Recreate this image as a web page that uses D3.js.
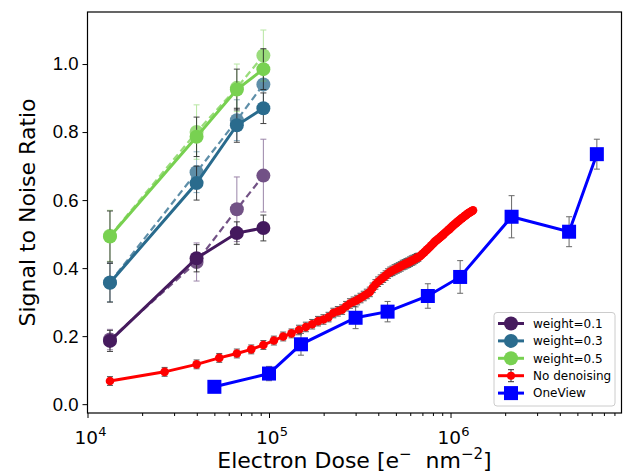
<!DOCTYPE html>
<html>
<head>
<meta charset="utf-8">
<script src="https://cdn.jsdelivr.net/npm/d3@7"></script>
<style>
  body { margin: 0; background: #fff; }
  svg { font-family: "DejaVu Sans", sans-serif; }
</style>
</head>
<body>
<svg id="chart" width="624" height="473"></svg>
<script>
// doses used by the denoised runs
const weightDose = [13300, 39900, 66500, 93100];

// weight series (solid = plain, dashed = second variant)
const w01 = [0.186, 0.429, 0.503, 0.518];
const w01Err = [0.031, 0.040, 0.033, 0.038];
const w03 = [0.357, 0.650, 0.820, 0.870];
const w03Err = [0.057, 0.050, 0.050, 0.045];
const w05 = [0.493, 0.786, 0.925, 0.985];
const w05Err = [0.075, 0.058, 0.060, 0.060];

const w01b = [0.190, 0.418, 0.573, 0.672];
const w01bErr = [0.030, 0.056, 0.095, 0.107];
const w03b = [0.358, 0.682, 0.835, 0.940];
const w03bErr = [0.057, 0.060, 0.060, 0.060];
const w05b = [0.495, 0.800, 0.930, 1.025];
const w05bErr = [0.075, 0.080, 0.070, 0.075];

// no denoising: dose step 13300, k = 1..100
const rawStep = 13300;
const rawSnr = [
  0.068, 0.095, 0.117, 0.136, 0.149, 0.161, 0.174, 0.187, 0.199, 0.208,
  0.218, 0.227, 0.235, 0.244, 0.249, 0.256, 0.268, 0.273, 0.278, 0.288,
  0.296, 0.301, 0.306, 0.312, 0.318, 0.324, 0.330, 0.342, 0.352, 0.360,
  0.366, 0.372, 0.378, 0.384, 0.389, 0.392, 0.396, 0.399, 0.402, 0.405,
  0.409, 0.411, 0.414, 0.416, 0.419, 0.422, 0.424, 0.427, 0.430, 0.432,
  0.435, 0.439, 0.443, 0.447, 0.451, 0.455, 0.459, 0.463, 0.467, 0.471,
  0.475, 0.479, 0.482, 0.485, 0.488, 0.491, 0.494, 0.497, 0.500, 0.503,
  0.506, 0.509, 0.512, 0.514, 0.517, 0.520, 0.523, 0.526, 0.528, 0.531,
  0.533, 0.536, 0.538, 0.540, 0.543, 0.545, 0.547, 0.549, 0.551, 0.553,
  0.555, 0.557, 0.559, 0.561, 0.562, 0.564, 0.565, 0.567, 0.568, 0.570
];
const rawErr = [
  0.013, 0.013, 0.013, 0.013, 0.013, 0.013, 0.013, 0.013, 0.013, 0.013,
  0.014, 0.014, 0.014, 0.014, 0.014, 0.014, 0.014, 0.014, 0.014, 0.014,
  0.014, 0.014, 0.014, 0.014, 0.014, 0.014, 0.014, 0.014, 0.014, 0.014,
  0.014, 0.014, 0.014, 0.014, 0.014, 0.014, 0.014, 0.014, 0.014, 0.014,
  0.014, 0.014, 0.014, 0.014, 0.014, 0.014, 0.014, 0.013, 0.013, 0.012,
  0, 0, 0, 0, 0, 0, 0, 0, 0, 0, 0, 0, 0, 0, 0, 0, 0, 0, 0, 0, 0, 0, 0, 0, 0,
  0, 0, 0, 0, 0, 0, 0, 0, 0, 0, 0, 0, 0, 0, 0, 0, 0, 0, 0, 0, 0, 0, 0, 0, 0
];

// OneView
const ovDose = [5.0e4, 1.0e5, 1.5e5, 3.0e5, 4.5e5, 7.5e5, 1.13e6, 2.17e6, 4.5e6, 6.4e6];
const ovSnr = [0.051, 0.090, 0.176, 0.254, 0.272, 0.318, 0.374, 0.551, 0.507, 0.735];
const ovErr = [0.015, 0.021, 0.032, 0.032, 0.030, 0.036, 0.048, 0.062, 0.044, 0.044];

const yTicks = [0, 0.2, 0.4, 0.6, 0.8, 1.0];
const xMajor = [1e4, 1e5, 1e6];

const col01 = "#461b5e", col03 = "#2b6c8e", col05 = "#78d151";

const svg = d3.select("#chart");
const box = { left: 87.5, right: 621.5, top: 12, bottom: 413 };

const x = d3.scaleLog().domain([1e4, 8.75e6]).range([box.left, box.right]);
const y = d3.scaleLinear().domain([-0.026, 1.153]).range([box.bottom, box.top]);

svg.append("defs").append("clipPath").attr("id", "clip")
  .append("rect").attr("x", box.left).attr("y", box.top)
  .attr("width", box.right - box.left).attr("height", box.bottom - box.top);

const plot = svg.append("g").attr("clip-path", "url(#clip)");
const line = d3.line().x(d => x(d[0])).y(d => y(d[1]));

function drawSeries(xs, ys, es, o) {
  const pts = xs.map((d, i) => [d, ys[i], es[i]]);
  const g = plot.append("g").attr("opacity", o.opacity || 1);
  g.append("path").datum(pts).attr("d", line)
    .attr("fill", "none").attr("stroke", o.color)
    .attr("stroke-width", o.lw).attr("stroke-dasharray", o.dash || null);
  // error bars
  const eb = g.append("g").attr("stroke", o.ecolor).attr("stroke-width", o.elw || 1)
    .attr("opacity", o.ealpha || 1);
  pts.filter(d => d[2] > 0).forEach(d => {
    const cx = x(d[0]);
    eb.append("line").attr("x1", cx).attr("x2", cx)
      .attr("y1", y(d[1] - d[2])).attr("y2", y(d[1] + d[2]));
    [d[1] - d[2], d[1] + d[2]].forEach(v => {
      eb.append("line").attr("x1", cx - 3).attr("x2", cx + 3)
        .attr("y1", y(v)).attr("y2", y(v));
    });
  });
  // markers
  if (o.marker === "square") {
    g.selectAll(null).data(pts).join("rect")
      .attr("x", d => x(d[0]) - o.size).attr("y", d => y(d[1]) - o.size)
      .attr("width", o.size * 2).attr("height", o.size * 2)
      .attr("fill", o.color);
  } else {
    g.selectAll(null).data(pts).join("circle")
      .attr("cx", d => x(d[0])).attr("cy", d => y(d[1])).attr("r", o.size)
      .attr("fill", o.color);
  }
}

// dashed variants
drawSeries(weightDose, w01b, w01bErr, { color: col01, lw: 2.2, dash: "7,4", marker: "circle", size: 7, ecolor: col01, ealpha: 0.7, opacity: 0.75 });
drawSeries(weightDose, w03b, w03bErr, { color: col03, lw: 2.2, dash: "7,4", marker: "circle", size: 7, ecolor: col03, ealpha: 0.7, opacity: 0.75 });
drawSeries(weightDose, w05b, w05bErr, { color: col05, lw: 2.2, dash: "7,4", marker: "circle", size: 7, ecolor: col05, ealpha: 0.7, opacity: 0.75 });
// solid
drawSeries(weightDose, w01, w01Err, { color: col01, lw: 3, marker: "circle", size: 7, ecolor: "#222", ealpha: 0.85 });
drawSeries(weightDose, w03, w03Err, { color: col03, lw: 3, marker: "circle", size: 7, ecolor: "#222", ealpha: 0.85 });
drawSeries(weightDose, w05, w05Err, { color: col05, lw: 3, marker: "circle", size: 7, ecolor: "#222", ealpha: 0.85 });

const rawDose = rawSnr.map((d, i) => rawStep * (i + 1));
drawSeries(rawDose, rawSnr, rawErr, { color: "#ff0000", lw: 3, marker: "circle", size: 4.3, ecolor: "#333", ealpha: 0.8 });
drawSeries(ovDose, ovSnr, ovErr, { color: "#0000ff", lw: 3, marker: "square", size: 7, ecolor: "#444", ealpha: 0.8 });

// axes
const yAxis = svg.append("g").attr("transform", `translate(${box.left},0)`)
  .call(d3.axisLeft(y).tickValues(yTicks).tickFormat(d3.format(".1f")).tickSize(5).tickPadding(4));
yAxis.selectAll("text").attr("font-size", 18.5).attr("fill", "#000");

const minor = [];
for (let e = 4; e <= 6; e++) for (let m = 2; m <= 9; m++) {
  const v = m * Math.pow(10, e);
  if (v < 8.75e6) minor.push(v);
}
svg.append("g").attr("transform", `translate(0,${box.bottom})`)
  .call(d3.axisBottom(x).tickValues(minor).tickFormat("").tickSize(3));
svg.append("g").attr("transform", `translate(0,${box.bottom})`)
  .call(d3.axisBottom(x).tickValues(xMajor).tickFormat("").tickSize(5));

svg.selectAll(".domain").remove();
svg.selectAll(".tick line").attr("stroke", "#000").attr("stroke-width", 1);

xMajor.forEach(v => {
  const t = svg.append("text").attr("x", x(v) + 3).attr("y", box.bottom + 31)
    .attr("text-anchor", "middle").attr("font-size", 18.5);
  t.append("tspan").text("10");
  t.append("tspan").attr("dy", -8).attr("font-size", 13).text(Math.log10(v));
});

// frame
svg.append("rect").attr("x", box.left).attr("y", box.top)
  .attr("width", box.right - box.left).attr("height", box.bottom - box.top)
  .attr("fill", "none").attr("stroke", "#000").attr("stroke-width", 1.2);

// axis labels
svg.append("text").attr("transform", `translate(35,${(box.top + box.bottom) / 2}) rotate(-90)`)
  .attr("text-anchor", "middle").attr("font-size", 22).text("Signal to Noise Ratio");

const xl = svg.append("text").attr("x", (box.left + box.right) / 2).attr("y", 468)
  .attr("text-anchor", "middle").attr("font-size", 22);
xl.append("tspan").text("Electron Dose [e");
xl.append("tspan").attr("dy", -9).attr("font-size", 15).text("\u2212");
xl.append("tspan").attr("dy", 9).text("\u00a0 nm");
xl.append("tspan").attr("dy", -9).attr("font-size", 15).text("\u22122");
xl.append("tspan").attr("dy", 9).text("]");

// legend
const legendItems = [
  { label: "weight=0.1", color: col01, marker: "circle", r: 7 },
  { label: "weight=0.3", color: col03, marker: "circle", r: 7 },
  { label: "weight=0.5", color: col05, marker: "circle", r: 7 },
  { label: "No denoising", color: "#ff0000", marker: "circle", r: 4, err: true },
  { label: "OneView", color: "#0000ff", marker: "square", r: 7 }
];
const lg = svg.append("g");
lg.append("rect").attr("x", 494).attr("y", 312.5).attr("width", 121).attr("height", 93.5)
  .attr("rx", 3).attr("fill", "#fff").attr("fill-opacity", 0.8)
  .attr("stroke", "#ccc").attr("stroke-width", 1);
legendItems.forEach((d, i) => {
  const cy = 323.5 + i * 17.4;
  const g = lg.append("g");
  g.append("line").attr("x1", 498).attr("x2", 524).attr("y1", cy).attr("y2", cy)
    .attr("stroke", d.color).attr("stroke-width", 3);
  if (d.err) {
    g.append("line").attr("x1", 511).attr("x2", 511).attr("y1", cy - 6).attr("y2", cy + 6)
      .attr("stroke", "#333");
    [cy - 6, cy + 6].forEach(v => g.append("line").attr("x1", 508).attr("x2", 514)
      .attr("y1", v).attr("y2", v).attr("stroke", "#333"));
  }
  if (d.marker === "square") {
    g.append("rect").attr("x", 511 - d.r).attr("y", cy - d.r).attr("width", d.r * 2)
      .attr("height", d.r * 2).attr("fill", d.color);
  } else {
    g.append("circle").attr("cx", 511).attr("cy", cy).attr("r", d.r).attr("fill", d.color);
  }
  g.append("text").attr("x", 533).attr("y", cy + 4.3).attr("font-size", 12).text(d.label);
});
</script>
</body>
</html>
